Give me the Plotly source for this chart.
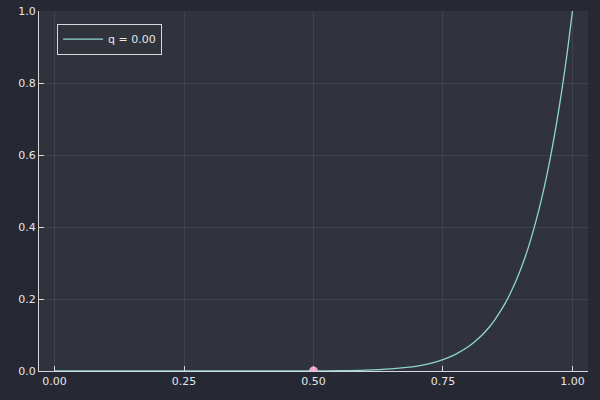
import plotly.graph_objects as go

# curve values
x_vals = [0.0, 0.1, 0.2, 0.3, 0.4, 0.5, 0.55, 0.6, 0.65, 0.68, 0.7, 0.72, 0.74, 0.75, 0.77,
          0.78, 0.8, 0.81, 0.825, 0.84, 0.85, 0.86, 0.87, 0.875, 0.88, 0.89, 0.9, 0.91, 0.92,
          0.93, 0.94, 0.95, 0.96, 0.97, 0.98, 0.99, 1.0]
y_vals = [0.0, 0.0, 0.0, 0.0, 0.00002, 0.00024, 0.0008, 0.0022, 0.0057, 0.0098, 0.0138,
          0.0194, 0.0270, 0.0317, 0.0436, 0.051, 0.0687, 0.0798, 0.0994, 0.123, 0.142, 0.164,
          0.188, 0.2015, 0.216, 0.247, 0.2824, 0.322, 0.3677, 0.419, 0.476, 0.540, 0.6127,
          0.694, 0.7847, 0.886, 1.0]

point_x = [0.5]
point_y = [0.0]

series_name = "q = 0.00"
x_ticks = [0.0, 0.25, 0.5, 0.75, 1.0]
x_tick_labels = ["0.00", "0.25", "0.50", "0.75", "1.00"]
y_ticks = [0.0, 0.2, 0.4, 0.6, 0.8, 1.0]
y_tick_labels = ["0.0", "0.2", "0.4", "0.6", "0.8", "1.0"]

fig = go.Figure()
fig.add_trace(go.Scatter(x=x_vals, y=y_vals, mode="lines", name=series_name,
                         line=dict(color="#8fd6d0", width=1.3, shape="spline", smoothing=0.8)))
fig.add_trace(go.Scatter(x=point_x, y=point_y, mode="markers", showlegend=False,
                         marker=dict(color="#f2a3c6", size=9, line=dict(width=0)),
                         cliponaxis=True))

axis_common = dict(
    showgrid=True, gridcolor="#3f434c", gridwidth=1,
    showline=True, linecolor="#d6d7da", linewidth=1.2,
    ticks="inside", ticklen=5, tickcolor="#d6d7da", tickwidth=1,
    zeroline=False, tickfont=dict(family="DejaVu Sans", size=11, color="#e6e6e6"),
    mirror=False, automargin=False,
)

fig.update_xaxes(range=[-0.03, 1.03], tickvals=x_ticks, ticktext=x_tick_labels, **axis_common)
fig.update_yaxes(range=[0, 1], tickvals=y_ticks, ticktext=y_tick_labels, **axis_common)

fig.update_layout(
    width=600, height=400,
    margin=dict(l=39, r=12, t=11, b=29),
    paper_bgcolor="#262933",
    plot_bgcolor="#30333c",
    font=dict(family="DejaVu Sans", size=11, color="#e6e6e6"),
    showlegend=True,
    legend=dict(x=0.033, y=0.965, xanchor="left", yanchor="top",
                bgcolor="#30333c", bordercolor="#d6d7da", borderwidth=1,
                font=dict(family="DejaVu Sans", size=11, color="#e6e6e6"),
                itemwidth=40, tracegroupgap=0),
)

fig.write_html("out.html", config={"displayModeBar": False},
               post_script="document.body.style.margin='0';document.body.style.background='#262933';")
